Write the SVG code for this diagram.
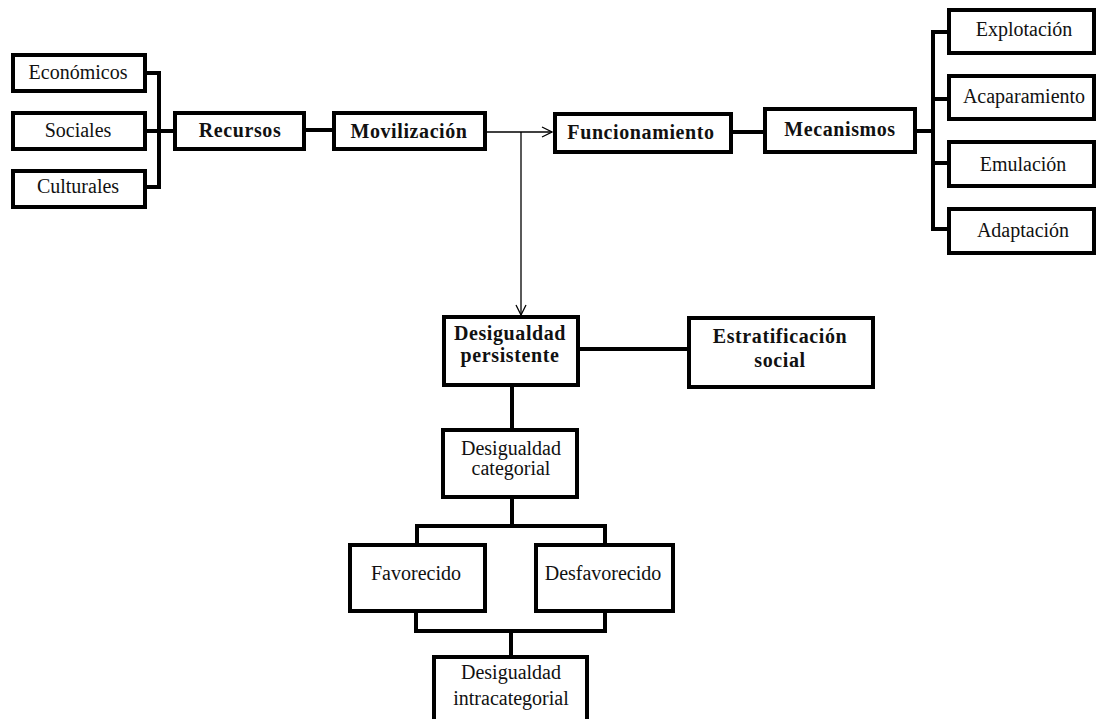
<svg xmlns="http://www.w3.org/2000/svg" width="1098" height="719" viewBox="0 0 1098 719">
<defs>
<style>
.box{fill:#fff;stroke:#000;stroke-width:4}
.c{fill:none;stroke:#000;stroke-width:4}
.thin{fill:none;stroke:#000;stroke-width:1.3}
text{font-family:"Liberation Serif","Times New Roman",serif;fill:#111;text-anchor:middle}
.t{font-size:20px}
.b{font-size:20px;font-weight:bold;letter-spacing:0.6px}
</style>
<marker id="arr" viewBox="0 0 12 12" refX="11" refY="6" markerWidth="12" markerHeight="12" markerUnits="userSpaceOnUse" orient="auto">
<path d="M1,1 L11,6 L1,11" fill="none" stroke="#000" stroke-width="1.3"/>
</marker>
</defs>
<rect width="1098" height="719" fill="#fff"/>
<g id="connectors">
<path class="c" d="M147,73 H159 V187 H147 M147,131 H173"/>
<path class="c" d="M306,130 H332"/>
<path class="thin" d="M487,132 H552" marker-end="url(#arr)"/>
<path class="thin" d="M521,132 V315" marker-end="url(#arr)"/>
<path class="c" d="M733,132 H763"/>
<path class="c" d="M917,131 H933 M947,32 H933 V229 H947 M933,99 H947 M933,163 H947"/>
<path class="c" d="M580,349 H687"/>
<path class="c" d="M512,387 V428"/>
<path class="c" d="M512,499 V526 M417,543 V526 H605 V543"/>
<path class="c" d="M416,613 V631 H605 V613 M511,631 V655"/>
</g>
<g id="economicos"><rect class="box" x="13" y="55" width="132" height="36"/><text class="t" x="78" y="79">Económicos</text></g>
<g id="sociales"><rect class="box" x="13" y="113" width="132" height="36"/><text class="t" x="78" y="137">Sociales</text></g>
<g id="culturales"><rect class="box" x="13" y="171" width="132" height="36"/><text class="t" x="78" y="193">Culturales</text></g>
<g id="recursos"><rect class="box" x="175" y="113" width="129" height="36"/><text class="b" x="240" y="137">Recursos</text></g>
<g id="movilizacion"><rect class="box" x="334" y="113" width="151" height="36"/><text class="b" x="409" y="138">Movilización</text></g>
<g id="funcionamiento"><rect class="box" x="555" y="114" width="176" height="38"/><text class="b" x="641" y="139">Funcionamiento</text></g>
<g id="mecanismos"><rect class="box" x="765" y="109" width="150" height="43"/><text class="b" x="840" y="136">Mecanismos</text></g>
<g id="explotacion"><rect class="box" x="949" y="10" width="145" height="43"/><text class="t" x="1024" y="36">Explotación</text></g>
<g id="acaparamiento"><rect class="box" x="949" y="76" width="145" height="43"/><text class="t" x="1024" y="103">Acaparamiento</text></g>
<g id="emulacion"><rect class="box" x="949" y="142" width="145" height="44"/><text class="t" x="1023" y="171">Emulación</text></g>
<g id="adaptacion"><rect class="box" x="949" y="209" width="145" height="44"/><text class="t" x="1023" y="237">Adaptación</text></g>
<g id="persistente"><rect class="box" x="444" y="317" width="134" height="68"/><text class="b" x="510" y="340">Desigualdad</text><text class="b" x="510" y="362">persistente</text></g>
<g id="estratificacion"><rect class="box" x="689" y="318" width="184" height="69"/><text class="b" x="780" y="343">Estratificación</text><text class="b" x="780" y="367">social</text></g>
<g id="categorial"><rect class="box" x="443" y="430" width="134" height="67"/><text class="t" x="511" y="455">Desigualdad</text><text class="t" x="511" y="475">categorial</text></g>
<g id="favorecido"><rect class="box" x="350" y="545" width="135" height="66"/><text class="t" x="416" y="580">Favorecido</text></g>
<g id="desfavorecido"><rect class="box" x="536" y="545" width="137" height="66"/><text class="t" x="603" y="580">Desfavorecido</text></g>
<g id="intracategorial"><rect class="box" x="434" y="657" width="153" height="70"/><text class="t" x="511" y="679">Desigualdad</text><text class="t" x="511" y="705">intracategorial</text></g>
</svg>
